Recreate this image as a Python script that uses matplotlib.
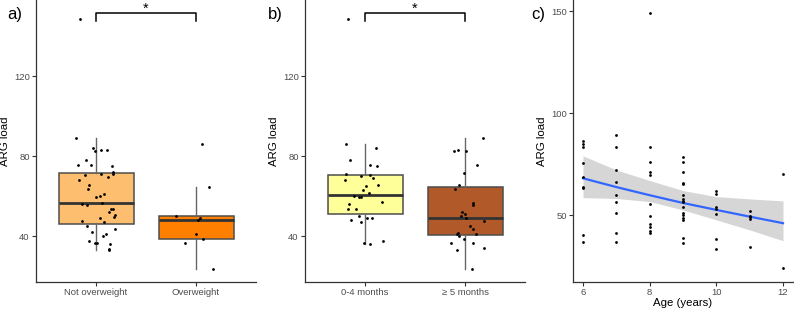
import numpy as np
import matplotlib
matplotlib.use("Agg")
import matplotlib.pyplot as plt

plt.rcParams['font.family'] = ['Liberation Sans', 'DejaVu Sans']

# panel a: weight status
a_labels = ['Not overweight', 'Overweight']
a_not_ow = [148.5, 89.2, 84.2, 82.8, 83, 83, 75.8, 78, 75.8, 75.2, 72, 71.3, 70.8, 71,
            69.5, 68, 65.8, 63.8, 61.3, 60, 59.7, 56.3, 55.5, 56.7, 53.8, 53.5, 52, 50.8,
            49.7, 49, 47.2, 47.8, 43.8, 45.2, 42.3, 41, 40, 37.7, 36.8, 36.8, 36.3, 33.8, 33]
a_not_ow_jit = [-0.16, -0.20, -0.03, -0.01, 0.05, 0.11, -0.18, -0.10, -0.05, 0.16, 0.17, 0.17,
                -0.11, 0.05, 0.12, -0.17, -0.07, -0.08, 0.08, 0.04, 0.0, -0.14, -0.09, 0.06,
                0.15, 0.17, 0.13, 0.19, 0.18, 0.04, 0.08, -0.14, 0.19, -0.09, -0.04, 0.10,
                0.07, -0.07, -0.01, 0.01, 0.14, 0.13, 0.13]
a_ow = [50, 64.8, 86, 49.3, 48, 41.3, 36.8, 38.5, 23.7]
a_ow_jit = [-0.20, 0.13, 0.06, 0.04, 0.02, 0.0, -0.11, 0.07, 0.17]

# panel b: breastfeeding
b_labels = ['0-4 months', '\u2265 5 months']
b_short = [148.5, 86, 84.2, 78, 75.8, 75.2, 71, 70.2, 70.8, 69.2, 68, 65.8, 65, 63.3, 61.5,
           60.2, 59.7, 59.7, 57.3, 56.2, 53.5, 53.8, 50.3, 49.2, 49.3, 48, 47, 37.8, 36.8, 36.2]
b_short_jit = [-0.17, -0.19, 0.11, -0.15, 0.05, 0.12, -0.19, -0.04, 0.05, 0.08, -0.20, 0.13,
               0.01, -0.02, 0.04, -0.11, -0.06, -0.04, 0.17, -0.16, -0.17, -0.09, -0.06, 0.02,
               0.07, -0.14, -0.04, 0.18, -0.01, 0.05]
b_long = [89.2, 82.8, 83, 82.7, 75.7, 71.8, 65.8, 63.8, 56.5, 55.7, 52, 51.2, 50, 49.2, 47.8,
          45.2, 43.8, 41.8, 41, 41, 40, 38.7, 36.8, 36.8, 33, 34, 23.7]
b_long_jit = [0.18, -0.11, -0.07, 0.01, 0.12, -0.01, -0.06, -0.10, 0.08, 0.08, -0.03, 0.0,
              -0.04, 0.01, 0.19, 0.05, 0.08, -0.07, -0.08, 0.11, -0.06, -0.01, -0.14, 0.08,
              -0.08, 0.19, 0.07]

# panel c: age
c_age = [6]*9 + [7]*9 + [8]*11 + [9]*16 + [10]*7 + [11]*5 + [12]*2
c_arg = [86.6, 85.1, 83.3, 75.5, 68.5, 63.7, 63.1, 40.4, 37.1,
         89.5, 83.5, 72, 66.2, 59.8, 56.5, 51.3, 41.3, 37.1,
         149, 83.5, 76, 71.2, 69.6, 55.7, 49.7, 45.6, 44.4, 42.5, 41.5,
         78.4, 76.1, 71.2, 65.8, 65.2, 60, 58, 57.2, 56.5, 54.2, 51.3, 50, 48.7, 47.5, 38.9, 36.4,
         61.8, 60.5, 53.9, 52.9, 50.7, 38.2, 33.2,
         52.3, 49.7, 49, 48.2, 34.3,
         70.4, 23.9]
fit_age = [6, 7, 8, 9, 10, 11, 12]
fit_val = [68.1, 63.8, 59.8, 56.0, 52.6, 49.3, 46.1]
fit_hi = [79.1, 72.2, 67.0, 62.1, 59.1, 58.0, 57.0]
fit_lo = [58.6, 58.2, 56.7, 52.6, 47.7, 42.8, 37.5]

W, H = 794, 312
fig = plt.figure(figsize=(W / 100, H / 100), dpi=100)

tick_col = '#4D4D4D'


def style(ax):
    for s in ['top', 'right']:
        ax.spines[s].set_visible(False)
    for s in ['left', 'bottom']:
        ax.spines[s].set_color('#333333')
        ax.spines[s].set_linewidth(0.9)
    ax.tick_params(length=3, width=0.8, color='#333333', labelcolor=tick_col,
                   labelsize=6.8, pad=1.5)


def box_panel(ax, groups, jits, labels, colors):
    bp = ax.boxplot(groups, positions=[1, 2], widths=0.75, patch_artist=True,
                    showfliers=False, showcaps=False, whis=1.5, zorder=2)
    for patch, c in zip(bp['boxes'], colors):
        patch.set_facecolor(c)
        patch.set_edgecolor('#4D4D4D')
        patch.set_linewidth(1.1)
    for w in bp['whiskers']:
        w.set_color('#666666')
        w.set_linewidth(1.0)
    for m in bp['medians']:
        m.set_color('#333333')
        m.set_linewidth(2.0)
    for i, (g, j) in enumerate(zip(groups, jits)):
        ax.plot(np.array(j) + i + 1, g, 'o', color='black', markersize=2.0,
                markeredgewidth=0, zorder=3)
    ax.set_xlim(0.4, 2.6)
    ax.set_ylim(17.5, 158)
    ax.set_yticks([40, 80, 120])
    ax.set_xticks([1, 2])
    ax.set_xticklabels(labels)
    ax.set_ylabel('ARG load', fontsize=8.2, labelpad=3)
    # significance bracket
    ax.plot([1, 1, 2, 2], [147.5, 151.3, 151.3, 147.5], color='black', lw=1.1)
    ax.text(1.5, 151.8, '*', ha='center', va='baseline', fontsize=10.5)
    style(ax)


ax_w = 220 / W
ax_h = 281.5 / H
ax_b = 1 - ax_h

ax1 = fig.add_axes([36 / W, ax_b, ax_w, ax_h])
box_panel(ax1, [a_not_ow, a_ow], [a_not_ow_jit, a_ow_jit], a_labels, ['#FDBF6F', '#FF7F00'])

ax2 = fig.add_axes([305 / W, ax_b, ax_w, ax_h])
box_panel(ax2, [b_short, b_long], [b_short_jit, b_long_jit], b_labels, ['#FFFF99', '#B15928'])

ax3 = fig.add_axes([573 / W, ax_b, ax_w, ax_h])
ax3.fill_between(fit_age, fit_lo, fit_hi, color='#D6D6D6', lw=0, zorder=1)
ax3.plot(fit_age, fit_val, color='#3366FF', lw=1.6, zorder=2)
ax3.plot(c_age, c_arg, 'o', color='black', markersize=2.0, markeredgewidth=0, zorder=3)
ax3.set_xlim(5.7, 12.3)
ax3.set_ylim(17.5, 155.5)
ax3.set_xticks([6, 8, 10, 12])
ax3.set_yticks([50, 100, 150])
ax3.set_xlabel('Age (years)', fontsize=8.2, labelpad=1)
ax3.set_ylabel('ARG load', fontsize=8.2, labelpad=3)
style(ax3)

fig.text(7 / W, 1 - 15 / H, 'a)', fontsize=12, va='center', ha='left')
fig.text(268 / W, 1 - 15 / H, 'b)', fontsize=12, va='center', ha='left')
fig.text(531 / W, 1 - 15 / H, 'c)', fontsize=12, va='center', ha='left')

fig.savefig('out.png', dpi=100)
